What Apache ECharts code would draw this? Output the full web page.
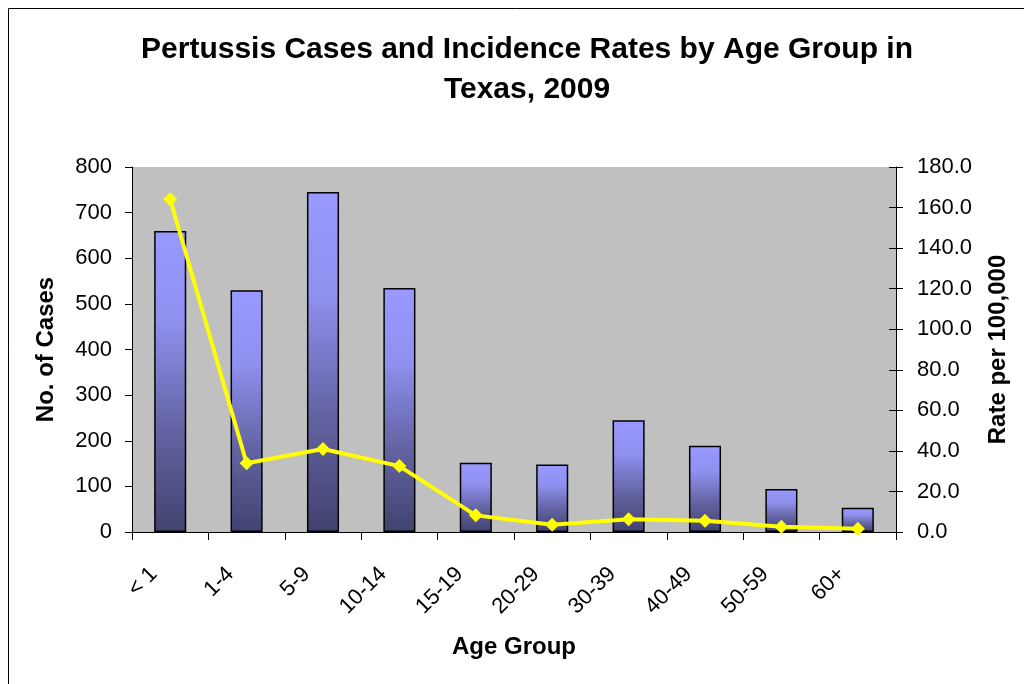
<!DOCTYPE html>
<html>
<head>
<meta charset="utf-8">
<script src="https://cdn.jsdelivr.net/npm/echarts@6/dist/echarts.min.js"></script>
<style>html,body{margin:0;padding:0;background:#fff;}#c{width:1024px;height:684px;}</style>
</head>
<body>
<div id="c"></div>
<script>
const categories = ['< 1', '1-4', '5-9', '10-14', '15-19', '20-29', '30-39', '40-49', '50-59', '60+'];
const cases = [660, 530, 745, 535, 152, 148, 245, 189, 94, 53];
const rates = [164.1, 33.9, 40.9, 32.5, 8.2, 3.6, 6.3, 5.6, 2.6, 1.6];
const leftTicks = [0, 100, 200, 300, 400, 500, 600, 700, 800];
const rightTicks = [0, 20, 40, 60, 80, 100, 120, 140, 160, 180];

const F = '"Liberation Sans", Arial, sans-serif';
const chart = echarts.init(document.getElementById('c'));
chart.setOption({
  backgroundColor: '#fff',
  animation: false,
  graphic: [{
    type: 'rect', shape: { x: 8.5, y: 8.5, width: 1100, height: 800 },
    style: { fill: 'none', stroke: '#000', lineWidth: 1 }, z: -1
  }],
  title: {
    text: 'Pertussis Cases and Incidence Rates by Age Group in\nTexas, 2009',
    left: 522, top: 25, textAlign: 'center',
    textStyle: { fontFamily: F, fontSize: 30, fontWeight: 'bold', color: '#000', lineHeight: 40 }
  },
  grid: { left: 132, right: 128, top: 167, bottom: 152, show: true, backgroundColor: '#C0C0C0', borderWidth: 0 },
  xAxis: {
    type: 'category', data: categories,
    axisLine: { lineStyle: { color: '#000', width: 1 } },
    axisTick: { show: true, length: 8, lineStyle: { color: '#000' } },
    axisLabel: { rotate: 45, margin: 55, fontFamily: F, fontSize: 22, color: '#000',
      verticalAlign: 'bottom', lineHeight: 22, padding: [0, 0, 12, 0] },
    name: 'Age Group', nameLocation: 'middle', nameGap: 103,
    nameTextStyle: { fontFamily: F, fontSize: 24, fontWeight: 'bold', color: '#000' }
  },
  yAxis: [{
    type: 'value', min: 0, max: 800, interval: 100, position: 'left',
    axisLine: { show: true, lineStyle: { color: '#000' } },
    axisTick: { show: true, length: 7, lineStyle: { color: '#000' } },
    splitLine: { show: false },
    axisLabel: { fontFamily: F, fontSize: 22, color: '#000', margin: 20,
      formatter: v => leftTicks.includes(v) ? String(v) : '' },
    name: 'No. of Cases', nameLocation: 'middle', nameGap: 74,
    nameTextStyle: { fontFamily: F, fontSize: 24, fontWeight: 'bold', color: '#000' }
  }, {
    type: 'value', min: 0, max: 180, interval: 20, position: 'right',
    axisLine: { show: true, lineStyle: { color: '#000' } },
    axisTick: { show: true, length: 7, lineStyle: { color: '#000' } },
    splitLine: { show: false },
    axisLabel: { fontFamily: F, fontSize: 22, color: '#000', margin: 21,
      formatter: v => rightTicks.includes(v) ? v.toFixed(1) : '' },
    name: 'Rate per 100,000', nameLocation: 'middle', nameGap: 90,
    nameTextStyle: { fontFamily: F, fontSize: 24, fontWeight: 'bold', color: '#000' }
  }, {
    type: 'value', min: 0, max: 180, interval: 20, position: 'right',
    axisLine: { show: false }, splitLine: { show: false }, axisLabel: { show: false },
    axisTick: { show: true, inside: true, length: 7, lineStyle: { color: '#000' } }
  }],
  series: [{
    type: 'bar', data: cases, yAxisIndex: 0, barWidth: '42%',
    itemStyle: {
      borderColor: '#000', borderWidth: 1.5,
      color: new echarts.graphic.LinearGradient(0, 0, 0, 1, [
        { offset: 0, color: '#9999FF' }, { offset: 0.3, color: '#9090F0' }, { offset: 0.65, color: '#6464A4' }, { offset: 1, color: '#42426F' }
      ], false)
    }
  }, {
    type: 'line', data: rates, yAxisIndex: 1,
    symbol: 'diamond', symbolSize: 14,
    lineStyle: { color: '#FFFF00', width: 4 },
    itemStyle: { color: '#FFFF00' }
  }]
});
</script>
</body>
</html>
